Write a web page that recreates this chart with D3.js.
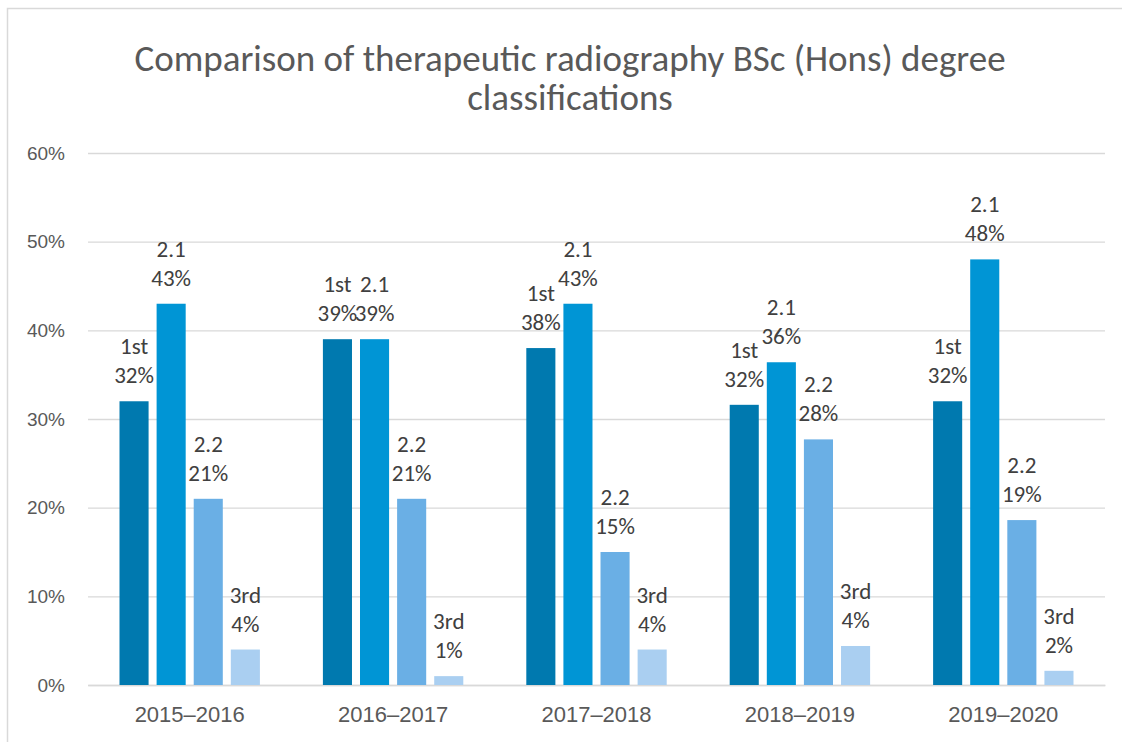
<!DOCTYPE html>
<html>
<head>
<meta charset="utf-8">
<script src="https://cdn.jsdelivr.net/npm/d3@7"></script>
<style>
	body { margin: 0; background: #fff; }
	svg { display: block; font-family: Calibri, Carlito, Lato, sans-serif; }
</style>
</head>
<body>
<div id="chart-area"></div>
<script>
/* data */
const years = ['2015–2016', '2016–2017', '2017–2018', '2018–2019', '2019–2020']
const classifications = ['1st', '2.1', '2.2', '3rd']
const firstValues = [0.32, 0.39, 0.38, 0.316, 0.32]
const upperSecondValues = [0.43, 0.39, 0.43, 0.364, 0.48]
const lowerSecondValues = [0.21, 0.21, 0.15, 0.277, 0.186]
const thirdValues = [0.04, 0.01, 0.04, 0.044, 0.016]
const yTicks = [0, 0.1, 0.2, 0.3, 0.4, 0.5, 0.6]
const barColors = ['#0079AF', '#0095D5', '#6AAFE5', '#AACFF1']

const seriesValues = [firstValues, upperSecondValues, lowerSecondValues, thirdValues]
const rows = years.map((year, i) => ({
	year,
	bars: classifications.map((c, j) => ({ name: c, value: seriesValues[j][i], color: barColors[j] })),
}))

/* Canvas */
const CANVAS_WIDTH = 1122
const CANVAS_HEIGHT = 742
const plot = { left: 88, right: 1105, top: 153, bottom: 685 }

const $svg = d3.select('#chart-area')
	.append('svg')
	.attr('width', CANVAS_WIDTH)
	.attr('height', CANVAS_HEIGHT)

// chart area border (right/bottom edges run off the page)
$svg.append('rect')
	.attr('x', 7.5)
	.attr('y', 8.5)
	.attr('width', CANVAS_WIDTH + 20)
	.attr('height', CANVAS_HEIGHT + 20)
	.attr('fill', 'none')
	.attr('stroke', '#d9d9d9')
	.attr('stroke-width', 1.5)

/* Title */
const $title = $svg.append('text')
	.attr('text-anchor', 'middle')
	.attr('fill', '#595959')
	.attr('font-size', 37)
$title.append('tspan').attr('x', 570).attr('y', 71).text('Comparison of therapeutic radiography BSc (Hons) degree')
$title.append('tspan').attr('x', 570).attr('y', 110).text('classifications')

/* Scales */
const xScale = d3.scaleBand()
	.domain(years)
	.range([plot.left, plot.right])

const innerScale = d3.scaleBand()
	.domain(classifications)
	.range([31.5, xScale.bandwidth() - 31.5])
	.paddingInner(8 / 37)

const yScale = d3.scaleLinear()
	.domain([0, 0.6])
	.range([plot.bottom, plot.top])

/* Axes */
const yAxisCall = d3.axisLeft(yScale)
	.tickValues(yTicks)
	.tickFormat(d3.format('.0%'))
	.tickSize(-(plot.right - plot.left))
	.tickPadding(23)

const $yAxis = $svg.append('g')
	.attr('transform', `translate(${plot.left}, 0)`)
	.call(yAxisCall)
$yAxis.select('.domain').remove()
$yAxis.selectAll('.tick line').attr('stroke', '#d9d9d9').attr('stroke-width', 1.3)
$yAxis.selectAll('.tick text')
	.attr('fill', '#595959')
	.attr('font-size', 19)
	.attr('font-family', null)

const xAxisCall = d3.axisBottom(xScale).tickSize(0).tickPadding(21)
const $xAxis = $svg.append('g')
	.attr('transform', `translate(0, ${plot.bottom})`)
	.call(xAxisCall)
$xAxis.select('.domain').attr('stroke', '#d9d9d9').attr('stroke-width', 1.3)
$xAxis.selectAll('.tick text')
	.attr('fill', '#595959')
	.attr('font-size', 22)
	.attr('font-family', null)

/* Bars */
const $groups = $svg.append('g').selectAll('g')
	.data(rows)
	.join('g')
	.attr('transform', d => `translate(${xScale(d.year)}, 0)`)

$groups.selectAll('rect')
	.data(d => d.bars)
	.join('rect')
	.attr('x', d => innerScale(d.name))
	.attr('y', d => yScale(d.value))
	.attr('width', innerScale.bandwidth())
	.attr('height', d => yScale(0) - yScale(d.value))
	.attr('fill', d => d.color)

/* Data labels */
const formatPct = d3.format('.0%')
const $labels = $groups.selectAll('text.label')
	.data(d => d.bars)
	.join('text')
	.attr('class', 'label')
	.attr('text-anchor', 'middle')
	.attr('fill', '#404040')
	.attr('font-size', 23)

$labels.append('tspan')
	.attr('x', d => innerScale(d.name) + innerScale.bandwidth() / 2)
	.attr('y', d => yScale(d.value) - 47)
	.text(d => d.name)
$labels.append('tspan')
	.attr('x', d => innerScale(d.name) + innerScale.bandwidth() / 2)
	.attr('y', d => yScale(d.value) - 18)
	.text(d => formatPct(d.value))
</script>
</body>
</html>
